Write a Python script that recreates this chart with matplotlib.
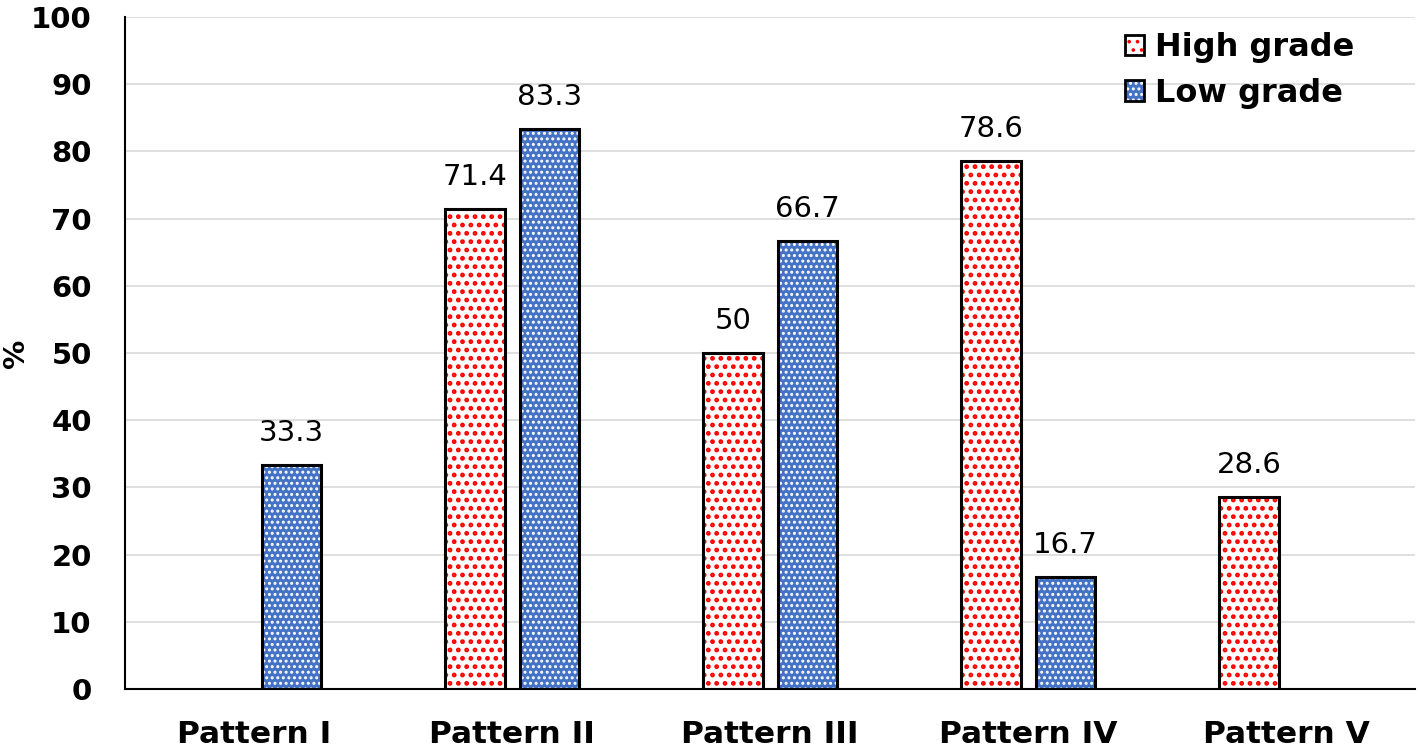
import numpy as np
import matplotlib.pyplot as plt
from matplotlib.patches import Patch
from matplotlib.legend_handler import HandlerTuple

categories = ['Pattern I', 'Pattern II', 'Pattern III', 'Pattern IV', 'Pattern V']
high_grade = [None, 71.4, 50, 78.6, 28.6]
low_grade = [33.3, 83.3, 66.7, 16.7, None]
high_labels = ['', '71.4', '50', '78.6', '28.6']
low_labels = ['33.3', '83.3', '66.7', '16.7', '']

plt.rcParams['font.family'] = ['DejaVu Sans']

fig = plt.figure(figsize=(14.18, 7.54), dpi=100)
ax = fig.add_axes([0.0882, 0.0862, 0.9098, 0.8913])

x = np.arange(len(categories))
w = 0.23
off = 0.144

red = '#ff0000'
blue = '#4472c4'

for i in range(len(categories)):
    h = high_grade[i]
    if h is not None:
        plt.rcParams['hatch.linewidth'] = 2.2
        ax.bar(x[i] - off, h, w, color='white', edgecolor=red, hatch='..', linewidth=0, zorder=2)
        ax.bar(x[i] - off, h, w, fill=False, edgecolor='black', linewidth=2.2, zorder=3)
        ax.text(x[i] - off, h + 3.6, high_labels[i], ha='center', va='baseline', fontsize=21)
    l = low_grade[i]
    if l is not None:
        plt.rcParams['hatch.linewidth'] = 1.4
        ax.bar(x[i] + off, l, w, color=blue, edgecolor='white', hatch='...', linewidth=0, zorder=2)
        ax.bar(x[i] + off, l, w, fill=False, edgecolor='black', linewidth=2.2, zorder=3)
        ax.text(x[i] + off, l + 3.6, low_labels[i], ha='center', va='baseline', fontsize=21)

ax.set_xlim(-0.5, len(categories) - 0.5)
ax.set_ylim(0, 100)
ax.set_yticks(np.arange(0, 101, 10))
ax.set_xticks(x)
ax.set_xticklabels(categories, fontsize=22.5, fontweight='bold')
for t in ax.get_yticklabels():
    t.set_fontsize(21)
    t.set_fontweight('bold')
ax.tick_params(axis='both', length=0)
ax.tick_params(axis='x', pad=22)
ax.tick_params(axis='y', pad=24)
ax.set_ylabel('%', fontsize=21, fontweight='bold')
ax.yaxis.set_label_coords(-0.074, 0.5)

ax.grid(axis='y', color='#d9d9d9', linewidth=1.2, zorder=0)
ax.set_axisbelow(True)
for s in ['top', 'right']:
    ax.spines[s].set_visible(False)
ax.spines['left'].set_linewidth(1.5)
ax.spines['bottom'].set_linewidth(1.5)

plt.rcParams['hatch.linewidth'] = 2.2
hi_patch = Patch(facecolor='white', edgecolor=red, hatch='..', linewidth=0)
plt.rcParams['hatch.linewidth'] = 1.4
lo_patch = Patch(facecolor=blue, edgecolor='white', hatch='...', linewidth=0)
handles = [
    (hi_patch, Patch(fill=False, edgecolor='black', linewidth=2)),
    (lo_patch, Patch(fill=False, edgecolor='black', linewidth=2)),
]
leg = ax.legend(handles, ['High grade', 'Low grade'], loc='upper right',
                bbox_to_anchor=(0.975, 1.02), frameon=False,
                prop={'size': 23, 'weight': 'bold'},
                handler_map={tuple: HandlerTuple(ndivide=1, pad=0)},
                handlelength=0.6, handleheight=0.6, handletextpad=0.35,
                labelspacing=0.45)

fig.savefig('out.png', dpi=100)
